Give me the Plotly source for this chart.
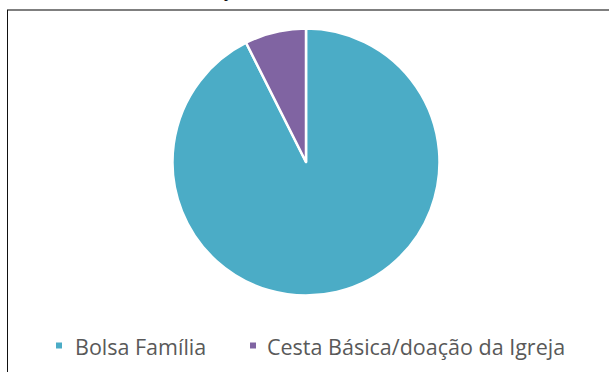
import plotly.graph_objects as go

# Benefit sources reported by households
labels = ["Bolsa Família", "Cesta Básica/doação da Igreja"]
values = [25, 2]
colors = ["#4BACC6", "#8064A2"]

W, H = 609, 372


def px(x):
    return x / W


def py(y):
    return 1 - y / H


fig = go.Figure()

fig.add_trace(go.Pie(
    labels=labels,
    values=values,
    sort=False,
    direction="clockwise",
    rotation=0,
    marker=dict(colors=colors, line=dict(color="white", width=2.5)),
    textinfo="none",
    hoverinfo="label+percent",
    showlegend=False,
    domain=dict(x=[px(172.5), px(439.5)], y=[py(295.5), py(28.5)]),
))

shapes = [
    # frame: top rule and left rule
    dict(type="line", xref="paper", yref="paper",
         x0=px(7), x1=1, y0=py(10), y1=py(10),
         line=dict(color="#7f7f7f", width=2)),
    dict(type="line", xref="paper", yref="paper",
         x0=px(7.5), x1=px(7.5), y0=py(10), y1=0,
         line=dict(color="#111111", width=1)),
]

annotations = [
    # descender of the caption line above the frame
    dict(text="p", xref="paper", yref="paper", x=px(228), y=py(-8),
         xanchor="center", yanchor="middle", showarrow=False,
         font=dict(family="Liberation Serif", size=16, color="#000000")),
]

# legend row: small square swatch followed by the label
legend_swatch_x = [56, 250]
legend_text_x = [73, 265]
legend_y = 345.5
for lab, col, sx, tx in zip(labels, colors, legend_swatch_x, legend_text_x):
    shapes.append(dict(type="rect", xref="paper", yref="paper",
                       x0=px(sx), x1=px(sx + 6),
                       y0=py(legend_y + 3), y1=py(legend_y - 3),
                       fillcolor=col, line=dict(width=0)))
    annotations.append(dict(text=lab, xref="paper", yref="paper",
                            x=px(tx), y=py(legend_y + 1),
                            xanchor="left", yanchor="middle", showarrow=False,
                            font=dict(family="Open Sans", size=21.5,
                                      color="#595959")))

fig.update_layout(
    width=W, height=H,
    margin=dict(l=0, r=0, t=0, b=0),
    paper_bgcolor="white",
    plot_bgcolor="white",
    shapes=shapes,
    annotations=annotations,
)

fig.write_html("out.html")
